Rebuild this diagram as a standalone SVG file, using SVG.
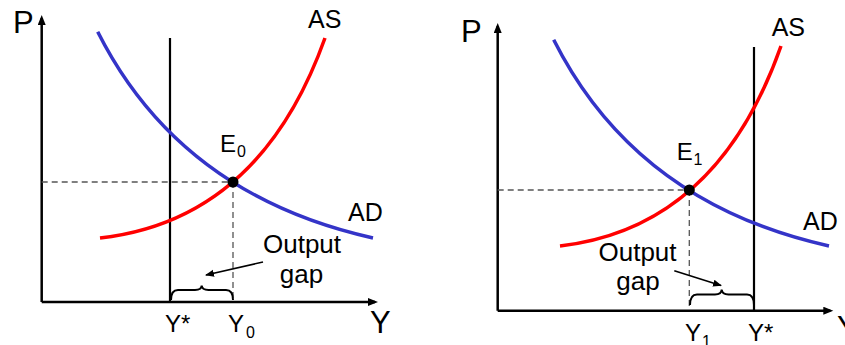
<svg xmlns="http://www.w3.org/2000/svg" width="845" height="345" viewBox="0 0 845 345">
<style>
text{font-family:"Liberation Sans",Arial,sans-serif;fill:#000}
.lbl{font-size:24px}
.big{font-size:31px}
.sub{font-size:16px}
.out{font-size:26px}
.axis{stroke:#000;stroke-width:2.5;fill:none}
.ystar{stroke:#000;stroke-width:2.2;fill:none}
.dash{stroke:#555;stroke-width:1.3;stroke-dasharray:6 4;fill:none}
.ad{stroke:#3434C8;stroke-width:3.5;fill:none}
.as{stroke:#FF0000;stroke-width:3.5;fill:none}
.brace{stroke:#000;stroke-width:2;fill:none}
.ptr{stroke:#000;stroke-width:1.6;fill:none}
</style>
<defs>
<marker id="arrA" markerUnits="userSpaceOnUse" markerWidth="12" markerHeight="10" refX="7" refY="4" orient="auto"><path d="M0,0 L10,4 L0,8 z" fill="#000"/></marker>
<marker id="arrS" markerUnits="userSpaceOnUse" markerWidth="11" markerHeight="9" refX="8" refY="3.5" orient="auto"><path d="M0,0 L9,3.5 L0,7 z" fill="#000"/></marker>
</defs>

<g id="left-chart">
  <g id="left-axes">
    <path class="axis" d="M41.7,302 V18" marker-end="url(#arrA)"/>
    <path class="axis" d="M41.7,302 H375" marker-end="url(#arrA)"/>
    <text class="big" x="13" y="33">P</text>
    <text class="big" x="370" y="333">Y</text>
  </g>
  <g id="left-ystar">
    <path class="ystar" d="M170,38 V302"/>
    <text class="lbl" x="165" y="332">Y*</text>
  </g>
  <g id="left-ad">
    <path class="ad" d="M97.7,31.7 Q180,195 373,238"/>
    <text class="lbl" x="348" y="221" style="font-size:25px">AD</text>
  </g>
  <g id="left-as">
    <path class="as" d="M100,238 Q260,220 325,38"/>
    <text class="lbl" x="308" y="28" style="font-size:25px">AS</text>
  </g>
  <g id="left-e0">
    <path class="dash" d="M41.7,182 H233 M233,182 V300"/>
    <circle cx="233" cy="182" r="5.5" fill="#000"/>
    <text class="lbl" x="220" y="152">E</text>
    <text class="sub" x="237" y="157">0</text>
    <text class="lbl" x="228" y="332">Y</text>
    <text class="sub" x="246" y="338">0</text>
  </g>
  <g id="left-gap">
    <path class="brace" d="M171,300 Q171,290 178,290 H195 Q201.5,290 201.7,285.5 Q202,290 208.5,290 H226 Q233,290 233,300"/>
    <text class="out" x="302" y="253" text-anchor="middle">Output</text>
    <text class="out" x="301.5" y="283" text-anchor="middle">gap</text>
  </g>
</g>

<g id="right-chart">
  <g id="right-axes">
    <path class="axis" d="M497.7,310.7 V26" marker-end="url(#arrA)"/>
    <path class="axis" d="M497.7,310.7 H830.3" marker-end="url(#arrA)"/>
    <text class="big" x="461" y="42">P</text>
    <text class="big" x="837" y="338">Y</text>
  </g>
  <g id="right-ystar">
    <path class="ystar" d="M754,47 V310.7"/>
    <text class="lbl" x="748" y="340.5">Y*</text>
  </g>
  <g id="right-ad">
    <path class="ad" d="M553.7,39.7 Q636,203 829,246"/>
    <text class="lbl" x="803" y="229.5" style="font-size:25px">AD</text>
  </g>
  <g id="right-as">
    <path class="as" d="M560,246 Q717,228 781,46"/>
    <text class="lbl" x="771.7" y="36" style="font-size:25px">AS</text>
  </g>
  <g id="right-e1">
    <path class="dash" d="M497.7,190 H689.3 M689.3,190 V308"/>
    <circle cx="689.3" cy="190" r="5.5" fill="#000"/>
    <text class="lbl" x="676.7" y="160">E</text>
    <text class="sub" x="693.5" y="165">1</text>
    <text class="lbl" x="685" y="340.5">Y</text>
    <text class="sub" x="702" y="346.5">1</text>
  </g>
  <g id="right-gap">
    <path class="brace" d="M690,305 Q690,294.5 697,294.5 H715 Q721.5,294.5 721.7,289.5 Q722,294.5 728.5,294.5 H747 Q754,294.5 754,305"/>
    <text class="out" x="637.5" y="261" text-anchor="middle">Output</text>
    <text class="out" x="638" y="290" text-anchor="middle">gap</text>
  </g>
</g>

<g id="connectors">
  <path class="ptr" d="M263,262 L206,275" marker-end="url(#arrS)"/>
  <path class="ptr" d="M674.3,270.7 L721,285.5" marker-end="url(#arrS)"/>
</g>
</svg>
